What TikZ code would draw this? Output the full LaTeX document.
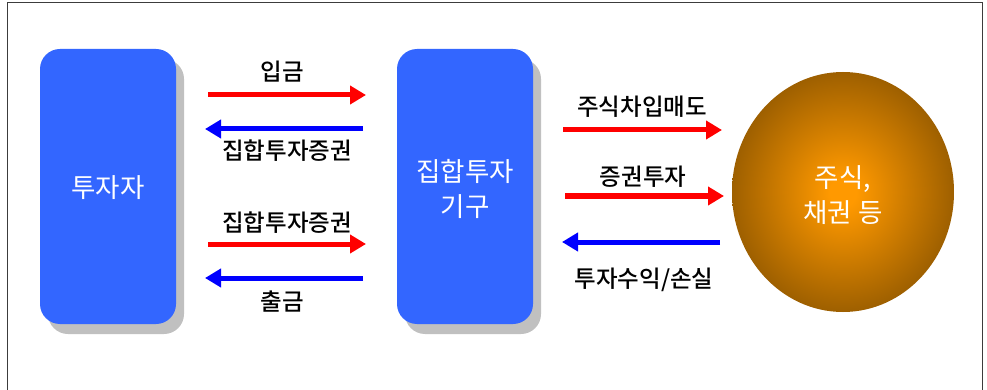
\documentclass[tikz,border=0pt]{standalone}
\usepackage{fontspec}
\newfontfamily\kr[BoldFont={Noto Sans CJK KR Medium}]{Noto Sans CJK KR}
\usetikzlibrary{arrows.meta}
\definecolor{boxblue}{RGB}{51,102,255}
\definecolor{shadowgray}{RGB}{192,192,192}
\definecolor{framegray}{RGB}{60,60,60}
\definecolor{orangec}{RGB}{255,153,0}
\definecolor{brownc}{RGB}{118,72,0}
\pgfdeclareradialshading{marketball}{\pgfpoint{0bp}{0bp}}{color(0bp)=(orangec); color(3bp)=(orangec); color(34bp)=(brownc); color(50bp)=(brownc)}
\tikzset{
  actor/.style={fill=boxblue, rounded corners=20pt, minimum width=136pt, minimum height=275pt, inner sep=0pt},
  actorshadow/.style={fill=shadowgray, rounded corners=20pt, minimum width=136pt, minimum height=275pt, inner sep=0pt},
  whitetext/.style={text=white, font=\kr\fontsize{26.5}{35}\selectfont, align=center},
  lbl/.style={text=black, font=\kr\bfseries\fontsize{23.5}{26}\selectfont, inner sep=0pt},
  redarrow/.style={draw=red, line width=5pt, -{Triangle[length=16pt,width=18pt]}},
  bluearrow/.style={draw=blue, line width=5pt, -{Triangle[length=16pt,width=18pt]}},
}
\begin{document}
\begin{tikzpicture}[x=1pt,y=-1pt]
\useasboundingbox (0,0) rectangle (987,390);
\fill[white] (0,0) rectangle (987,390);
\draw[framegray, line width=1pt] (7,400) -- (7,3) -- (982,3) -- (982,400);
% shadows
\node[actorshadow] (s1) at (116,196.5) {};
\node[actorshadow] (s2) at (473,196.5) {};
% boxes
\node[actor] (inv) at (108,186.5) {};
\node[whitetext] (invt) at (108,188) {투자자};
\node[actor] (fund) at (465,186.5) {};
\node[whitetext] (fundt) at (465,189) {집합투자\\기구};
% market ellipse
\path[shading=marketball] (843,192) ellipse (111 and 120);
\coordinate (mk) at (843,192);
\node[whitetext] (mkt) at (843,195) {주식,\\채권 등};
% left arrows coordinates
\coordinate (a1s) at (208,95);  \coordinate (a1e) at (366,95);
\coordinate (a2s) at (363,129); \coordinate (a2e) at (205,129);
\coordinate (a3s) at (208,244); \coordinate (a3e) at (366,244);
\coordinate (a4s) at (363,278); \coordinate (a4e) at (205,278);
\draw[redarrow] (a1s) -- (a1e);
\draw[bluearrow] (a2s) -- (a2e);
\draw[redarrow] (a3s) -- (a3e);
\draw[bluearrow] (a4s) -- (a4e);
\node[lbl] (l1) at (282,72) {입금};
\node[lbl] (l2) at (287,151) {집합투자증권};
\node[lbl] (l3) at (287,223) {집합투자증권};
\node[lbl] (l4) at (282,302) {출금};
% right arrows
\coordinate (b1s) at (563,130); \coordinate (b1e) at (722,130);
\coordinate (b2s) at (565,196); \coordinate (b2e) at (724,196);
\coordinate (b3s) at (720,242); \coordinate (b3e) at (562,242);
\draw[redarrow] (b1s) -- (b1e);
\draw[redarrow] (b2s) -- (b2e);
\draw[bluearrow] (b3s) -- (b3e);
\node[lbl] (r1) at (642,107) {주식차입매도};
\node[lbl] (r2) at (643,177) {증권투자};
\node[lbl] (r3) at (644,280) {투자수익/손실};
\end{tikzpicture}
\end{document}
